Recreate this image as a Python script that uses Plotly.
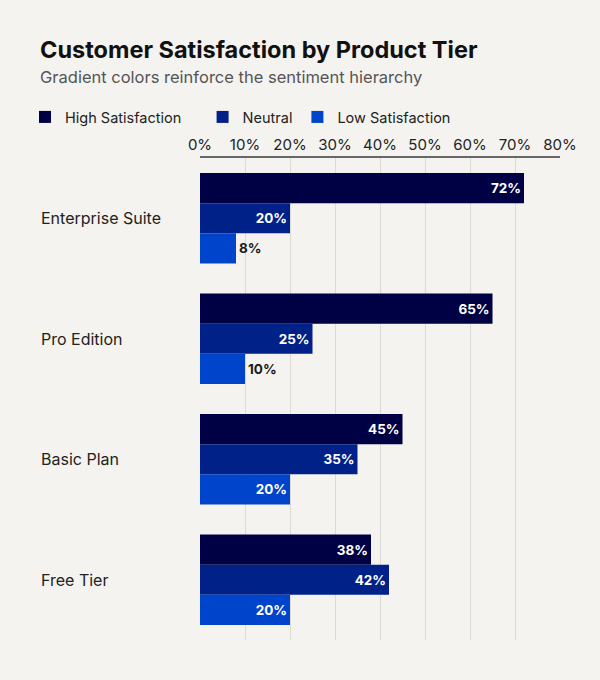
import plotly.graph_objects as go

# --- data ---
tiers = ["Enterprise Suite", "Pro Edition", "Basic Plan", "Free Tier"]
high = [72, 65, 45, 38]
neutral = [20, 25, 35, 42]
low = [8, 10, 20, 20]

series_names = ["High Satisfaction", "Neutral", "Low Satisfaction"]
series_colors = ["#000044", "#002288", "#0044cc"]

W, H = 600, 680
M_L, M_R, M_T, M_B = 200, 40, 158, 40
PW, PH = W - M_L - M_R, H - M_T - M_B


def px_x(px):
    # container pixel -> paper x
    return (px - M_L) / PW


def px_y(px):
    # container pixel (from top) -> paper y
    return (H - M_B - px) / PH


def label_pos(vals):
    # small bars get their label outside
    return ["inside" if v >= 15 else "outside" for v in vals]


# a bit of extra room after the first legend entry, like the reference
legend_names = [series_names[0] + "\u00a0" * 4] + series_names[1:]

fig = go.Figure()
for name, vals, col in zip(legend_names, [high, neutral, low], series_colors):
    fig.add_trace(go.Bar(
        y=tiers, x=vals, name=name, orientation="h",
        marker=dict(color=col, line=dict(width=0)),
        text=[f"{v}%" for v in vals],
        textposition=label_pos(vals),
        insidetextanchor="end",
        insidetextfont=dict(color="white", size=13.5, family="Inter", weight="bold"),
        outsidetextfont=dict(color="#1a1a1a", size=13.5, family="Inter", weight="bold"),
        cliponaxis=False,
        hoverinfo="skip",
    ))

# left-aligned category labels
for t in tiers:
    fig.add_annotation(
        x=px_x(39), xref="paper", xanchor="left",
        y=t, yref="y", text=t, showarrow=False,
        font=dict(size=16, color="#222222", family="Inter"),
    )

fig.add_annotation(
    x=px_x(38), y=px_y(77), xref="paper", yref="paper",
    text="Gradient colors reinforce the sentiment hierarchy",
    showarrow=False, xanchor="left", yanchor="middle",
    font=dict(size=16.5, color="#555555", family="Inter"),
)

fig.update_layout(
    width=W, height=H,
    paper_bgcolor="#f4f3ef", plot_bgcolor="#f4f3ef",
    margin=dict(l=M_L, r=M_R, t=M_T, b=M_B),
    font=dict(family="Inter", color="#222222"),
    barmode="group", bargap=0.25, bargroupgap=0,
    title=dict(
        text="<b>Customer Satisfaction by Product Tier</b>",
        x=40 / W, xanchor="left", y=1 - 50 / H, yanchor="middle",
        font=dict(size=23.5, color="#111111", family="Inter"),
    ),
    legend=dict(
        orientation="h", x=px_x(25), xanchor="left",
        y=px_y(117), yanchor="middle",
        font=dict(size=14.5, color="#222222", family="Inter"),
        itemwidth=30, traceorder="normal", bgcolor="rgba(0,0,0,0)",
    ),
    xaxis=dict(
        side="top", range=[0, 80], dtick=10, ticksuffix="%",
        showgrid=True, gridcolor="#dcdad5", gridwidth=1,
        showline=True, linecolor="#666666", linewidth=2,
        ticks="", zeroline=False,
        tickfont=dict(size=15, color="#222222", family="Inter"),
        fixedrange=True,
    ),
    yaxis=dict(
        autorange="reversed", showticklabels=False, showgrid=False,
        zeroline=False, ticks="", fixedrange=True,
    ),
    showlegend=True,
)

fig.write_html(
    "out.html",
    config={"displayModeBar": False},
    post_script="document.body.style.margin='0';",
)
